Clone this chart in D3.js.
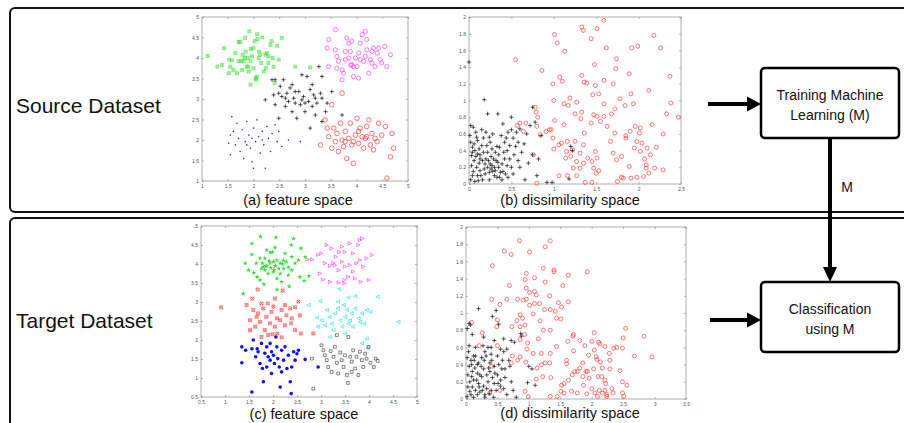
<!DOCTYPE html>
<html>
<head>
<meta charset="utf-8">
<script src="https://cdn.jsdelivr.net/npm/d3@7"></script>
<style>
body { margin: 0; background: #fff; }
text { font-family: "Liberation Sans", Arial, sans-serif; }
</style>
</head>
<body>
<div class="container"></div>
<script>
// ---- tick values ----
let ticksA = [1, 1.5, 2, 2.5, 3, 3.5, 4, 4.5, 5];
let ticksBx = [0, 0.5, 1, 1.5, 2, 2.5];
let ticksBy = [0, 0.2, 0.4, 0.6, 0.8, 1, 1.2, 1.4, 1.6, 1.8, 2];
let ticksC = [0.5, 1, 1.5, 2, 2.5, 3, 3.5, 4, 4.5, 5];
let ticksDx = [0, 0.5, 1, 1.5, 2, 2.5, 3, 3.5];
let ticksDy = [0, 0.2, 0.4, 0.6, 0.8, 1, 1.2, 1.4, 1.6, 1.8, 2];

// ---- (a) source feature space ----
let aGreen = [[1.11,4.05],[1.30,3.79],[1.39,3.83],[1.43,4.24],[1.52,3.63],[1.53,3.96],[1.55,3.79],[1.58,3.94],[1.61,3.71],[1.65,4.12],[1.68,3.63],[1.71,4.39],[1.74,4.39],[1.76,3.92],[1.79,4.08],[1.81,3.93],[1.83,4.00],[1.84,4.49],[1.85,4.16],[1.87,3.79],[1.89,3.79],[1.91,3.67],[1.92,4.65],[1.94,3.92],[1.95,4.22],[1.97,4.04],[2.00,4.24],[2.02,4.41],[2.04,3.51],[2.05,3.47],[2.07,4.58],[2.08,4.46],[2.10,4.00],[2.11,4.16],[2.13,4.08],[2.15,3.88],[2.17,4.50],[2.20,3.67],[2.23,4.08],[2.24,3.75],[2.26,4.12],[2.29,3.88],[2.33,4.32],[2.35,4.41],[2.37,4.00],[2.39,3.79],[2.41,3.39],[2.46,4.30],[2.49,3.96],[2.55,4.49],[1.94,3.35],[2.07,3.55],[1.71,3.92],[1.78,3.71],[1.89,4.00],[2.00,3.75],[2.29,4.04],[2.81,3.79],[3.10,3.77]];
let aMagenta = [[3.59,4.69],[3.46,4.45],[3.43,4.24],[3.46,3.79],[3.59,4.20],[3.62,4.04],[3.65,3.92],[3.72,3.71],[3.75,3.63],[3.78,3.96],[3.81,4.49],[3.85,4.36],[3.88,4.16],[3.89,3.83],[3.91,3.83],[3.94,3.55],[3.98,4.00],[4.01,3.79],[4.04,4.12],[4.07,4.36],[4.11,4.57],[4.14,3.92],[4.17,4.65],[4.20,4.45],[4.20,4.20],[4.24,3.63],[4.27,3.96],[4.30,3.88],[4.33,4.24],[4.36,3.79],[4.40,4.12],[4.43,4.24],[4.46,3.96],[4.49,3.88],[4.55,4.28],[4.59,3.79],[4.66,4.08],[3.72,3.47],[4.04,3.51],[3.94,3.79],[3.78,4.16],[4.17,4.04],[3.62,3.75],[4.07,3.96],[4.30,4.16],[3.91,4.41],[3.85,4.00]];
let aBlack = [[2.23,2.98],[2.36,3.47],[2.39,3.10],[2.42,2.86],[2.49,2.53],[2.52,3.31],[2.55,3.06],[2.58,3.47],[2.62,2.82],[2.65,3.14],[2.68,2.94],[2.71,3.27],[2.75,2.69],[2.78,3.02],[2.81,2.90],[2.84,2.53],[2.88,3.18],[2.91,2.86],[2.94,3.59],[2.97,3.06],[3.00,2.69],[3.04,3.55],[3.07,2.94],[3.10,3.23],[3.14,2.82],[3.17,3.10],[3.20,2.61],[3.23,2.90],[3.27,3.79],[3.30,3.14],[3.33,3.55],[3.33,2.45],[3.40,2.69],[3.43,2.90],[3.52,3.18],[3.72,2.61],[3.10,2.29],[2.42,3.47],[2.94,2.98],[3.20,3.02],[2.81,3.18],[2.62,3.02],[3.00,2.90],[2.49,3.14],[3.14,3.35],[3.33,3.02],[2.75,3.35]];
let aRed = [[3.30,1.88],[3.39,2.49],[3.43,2.29],[3.46,2.08],[3.52,1.80],[3.56,2.29],[3.59,1.96],[3.62,2.16],[3.65,1.72],[3.69,2.41],[3.72,2.00],[3.75,1.84],[3.78,2.21],[3.81,1.55],[3.85,2.04],[3.88,2.41],[3.91,1.88],[3.94,1.43],[3.98,2.12],[4.01,2.53],[4.04,1.92],[4.07,2.29],[4.11,2.08],[4.14,1.80],[4.17,2.04],[4.20,2.33],[4.24,2.49],[4.27,1.88],[4.30,2.16],[4.33,1.76],[4.36,2.04],[4.40,1.96],[4.43,2.41],[4.49,2.12],[4.56,2.33],[4.59,1.07],[4.69,2.16],[4.72,1.80],[4.66,1.59],[3.72,3.14],[3.52,2.86],[3.94,1.96],[4.04,2.21],[3.78,1.96],[4.20,2.08]];
let aBlue = [[1.55,2.12],[1.52,1.92],[1.55,1.64],[1.58,2.57],[1.61,2.21],[1.65,1.88],[1.68,2.41],[1.71,2.04],[1.74,1.72],[1.78,2.25],[1.81,1.55],[1.84,1.96],[1.87,2.45],[1.91,2.12],[1.94,1.80],[1.97,1.47],[2.00,1.31],[2.00,2.29],[2.04,1.96],[2.07,2.49],[2.10,2.08],[2.13,1.68],[2.17,2.21],[2.20,1.88],[2.23,1.31],[2.26,2.33],[2.29,2.04],[2.33,1.72],[2.36,2.16],[2.42,2.37],[2.46,1.96],[2.49,2.21],[2.55,1.84],[2.68,2.00],[2.91,1.96],[1.97,2.04],[1.87,1.88],[2.17,2.00]];

// ---- (b) source dissimilarity space ----
let bBlack = [[0.02,0.70],[0.05,0.68],[0.08,0.62],[0.02,0.50],[0.06,0.48],[0.10,0.52],[0.04,0.38],[0.08,0.33],[0.12,0.42],[0.15,0.46],[0.03,0.22],[0.05,0.15],[0.09,0.20],[0.12,0.25],[0.14,0.10],[0.02,0.05],[0.07,0.03],[0.18,0.18],[0.20,0.30],[0.22,0.38],[0.17,0.55],[0.20,0.62],[0.25,0.50],[0.27,0.42],[0.25,0.24],[0.28,0.15],[0.30,0.10],[0.32,0.28],[0.35,0.35],[0.33,0.45],[0.38,0.58],[0.40,0.72],[0.42,0.50],[0.45,0.40],[0.45,0.22],[0.40,0.15],[0.36,0.08],[0.48,0.30],[0.50,0.65],[0.52,0.55],[0.55,0.45],[0.58,0.28],[0.60,0.20],[0.62,0.38],[0.65,0.48],[0.52,0.12],[0.68,0.60],[0.72,0.70],[0.70,0.25],[0.75,0.35],[0.82,0.30],[0.85,0.58],[0.80,0.10],[0.66,0.05],[0.92,0.02],[0.98,0.02],[1.20,0.45],[1.22,0.40],[1.18,0.06],[0.78,0.74],[0.75,0.92],[0.50,0.80],[0.34,0.84],[0.22,0.84],[0.18,1.01],[0.00,1.46],[0.13,0.30],[0.10,0.10],[0.24,0.05],[0.30,0.20],[0.42,0.30],[0.15,0.65],[0.46,0.62],[0.58,0.50],[0.28,0.60],[0.06,0.28],[0.35,0.20],[0.26,0.33],
  [0.01,0.58],[0.04,0.44],[0.07,0.40],[0.10,0.36],[0.13,0.35],[0.16,0.28],[0.19,0.24],[0.22,0.20],[0.24,0.14],[0.27,0.22],[0.29,0.30],[0.31,0.38],[0.34,0.26],[0.37,0.14],[0.39,0.05],[0.43,0.12],[0.46,0.08],[0.50,0.20],[0.53,0.35],[0.56,0.62],[0.13,0.16],[0.16,0.05],[0.19,0.12],[0.21,0.46],[0.24,0.56],[0.09,0.56],[0.11,0.04],[0.04,0.10],[0.26,0.18],[0.31,0.16],[0.36,0.44],[0.41,0.38],[0.44,0.55],[0.60,0.66],[0.48,0.46],[0.03,0.34],[0.17,0.38],[0.23,0.28],[0.33,0.08],[0.39,0.24]];
let bRed = [[0.55,1.49],[1.01,1.79],[1.04,1.69],[1.13,1.59],[0.86,1.36],[1.07,1.28],[0.99,1.20],[1.10,1.23],[1.00,1.00],[1.12,0.96],[1.19,1.03],[1.27,0.98],[1.33,1.88],[1.35,1.84],[1.44,1.74],[1.51,1.86],[1.59,1.96],[1.62,1.63],[1.48,1.43],[1.33,1.30],[1.36,1.22],[1.39,1.21],[1.49,1.18],[1.59,1.24],[1.53,1.08],[1.59,0.96],[1.46,1.07],[1.70,1.20],[1.74,1.50],[1.73,1.38],[1.78,1.02],[1.72,0.90],[1.84,0.94],[1.89,1.32],[1.91,1.08],[1.94,0.96],[1.92,1.63],[1.99,1.65],[2.18,1.78],[2.26,1.63],[2.12,1.12],[2.37,1.29],[2.38,0.97],[2.33,0.84],[2.47,0.80],[2.16,0.71],[2.29,0.60],[2.02,0.67],[2.01,0.61],[1.96,0.69],[1.90,0.63],[1.85,0.58],[1.85,0.55],[1.98,0.51],[1.95,0.43],[2.04,0.49],[2.02,0.39],[2.10,0.43],[2.14,0.35],[2.21,0.44],[2.07,0.30],[2.19,0.19],[2.09,0.23],[2.09,0.19],[2.29,0.17],[2.12,0.13],[2.06,0.09],[1.98,0.08],[1.91,0.07],[1.82,0.07],[1.80,0.08],[1.75,0.03],[1.89,0.21],[1.80,0.33],[1.74,0.29],[1.70,0.37],[1.67,0.51],[1.72,0.61],[1.63,0.69],[1.55,0.75],[1.51,0.81],[1.59,0.81],[1.47,0.83],[1.44,0.73],[1.36,0.61],[1.35,0.47],[1.49,0.39],[1.51,0.31],[1.45,0.27],[1.53,0.16],[1.50,0.13],[1.47,0.19],[1.40,0.31],[1.35,0.25],[1.31,0.19],[1.27,0.27],[1.25,0.51],[1.22,0.41],[1.20,0.33],[1.15,0.39],[1.14,0.31],[1.09,0.49],[1.06,0.47],[1.00,0.42],[0.99,0.55],[0.97,0.65],[1.01,0.76],[0.95,0.65],[0.91,0.63],[0.84,0.59],[0.80,0.69],[0.79,0.86],[0.81,0.80],[0.78,0.92],[0.64,0.63],[0.60,0.73],[0.57,0.70],[0.67,0.73],[0.76,0.35],[1.06,0.10],[1.16,0.10],[1.27,0.10],[1.23,0.19],[1.37,0.02],[1.45,0.02],[0.80,0.01],[1.17,0.94],[1.25,0.84],[1.33,0.86],[1.32,0.78],[1.12,0.71],[1.16,0.51],[1.31,0.37],[1.68,0.84]];

// ---- (c) target feature space ----
let cGreen = [[1.56,4.54],[1.74,4.72],[2.06,4.70],[1.87,4.37],[1.94,4.31],[1.99,4.31],[2.38,4.50],[2.43,4.67],[2.58,4.41],[1.56,4.25],[1.65,4.02],[1.78,4.02],[1.83,4.15],[1.94,4.02],[2.01,4.06],[2.08,4.10],[2.15,4.02],[2.22,4.09],[2.28,4.06],[2.39,4.19],[2.46,4.02],[2.53,4.10],[1.42,4.02],[1.49,3.84],[1.60,3.77],[1.67,3.66],[1.76,3.88],[1.83,3.84],[1.90,3.75],[2.01,3.79],[2.08,3.62],[2.15,3.75],[2.22,3.88],[2.32,3.71],[2.39,3.84],[2.56,3.66],[2.67,4.19],[2.75,3.68],[2.65,3.56],[1.81,3.47],[2.34,3.41],[2.08,3.33],[1.38,3.22],[2.04,4.43],[2.25,4.28],[1.73,4.15],[1.87,3.95],[2.32,3.91],[1.73,3.58],[2.18,3.53],[1.85,3.95],[1.95,3.90],[2.05,3.95],[2.12,3.88],[1.80,3.92],[2.20,4.00],[1.92,4.08],[2.02,3.85]];
let cMagenta = [[2.72,4.12],[2.82,4.12],[3.01,4.28],[3.12,4.50],[3.22,4.41],[3.31,4.19],[3.38,4.32],[3.44,4.46],[3.50,4.32],[3.60,4.54],[3.67,4.28],[3.78,4.50],[3.81,4.63],[3.86,4.67],[4.06,4.24],[3.08,4.02],[3.19,3.95],[3.26,4.02],[3.29,3.97],[3.37,3.84],[3.44,4.06],[3.50,3.93],[3.60,3.97],[3.67,3.80],[3.74,4.02],[3.81,4.10],[3.88,3.93],[3.95,4.15],[2.98,3.75],[3.05,3.59],[3.19,3.53],[3.37,3.51],[3.49,3.58],[3.57,3.66],[3.71,3.62],[3.83,3.53],[4.00,3.58],[3.49,3.49],[2.94,4.24]];
let cCyan = [[2.74,2.92],[2.98,3.02],[3.38,3.34],[3.57,3.12],[3.71,3.15],[4.18,3.14],[4.61,2.48],[2.91,2.59],[2.93,2.35],[3.01,2.52],[3.12,2.79],[3.17,2.61],[3.22,2.43],[3.26,2.26],[3.19,2.08],[3.29,2.70],[3.35,2.83],[3.40,2.52],[3.44,2.35],[3.50,2.61],[3.54,2.79],[3.57,2.43],[3.60,2.52],[3.64,2.70],[3.67,2.35],[3.71,2.83],[3.78,2.57],[3.85,2.70],[3.90,2.43],[3.95,2.79],[4.03,2.74],[3.95,2.04],[3.85,1.91],[3.97,1.78],[3.50,2.17],[3.35,3.01],[3.08,2.39],[3.47,2.92],[3.81,2.48]];
let cRed = [[0.92,2.86],[1.45,2.92],[1.57,3.09],[1.68,3.33],[1.76,2.96],[1.89,2.96],[2.04,3.09],[2.20,3.30],[2.25,2.92],[2.53,3.01],[2.46,2.86],[2.36,2.83],[1.59,2.79],[1.69,2.70],[1.80,2.83],[1.86,2.61],[1.97,2.74],[2.08,2.57],[2.18,2.79],[2.28,2.65],[2.39,2.57],[2.56,2.65],[1.52,2.52],[1.63,2.35],[1.73,2.48],[1.83,2.26],[1.94,2.44],[2.04,2.35],[2.15,2.52],[2.25,2.39],[2.38,2.44],[2.46,2.26],[1.52,2.26],[1.76,2.08],[1.90,2.13],[1.99,2.15],[2.09,2.17],[2.18,2.07],[2.58,2.17],[2.84,2.17],[1.66,2.61],[2.01,2.88]];
let cBlue = [[1.35,1.82],[1.35,1.40],[1.43,1.73],[1.56,1.77],[1.56,0.63],[1.59,2.00],[1.64,1.56],[1.69,1.69],[1.73,1.38],[1.78,1.25],[1.80,0.90],[1.83,1.65],[1.87,1.82],[1.90,1.56],[1.94,1.47],[1.97,1.69],[1.97,1.12],[2.01,1.60],[2.03,1.38],[2.06,2.08],[2.08,1.82],[2.10,1.51],[2.13,1.29],[2.15,0.76],[2.18,1.73],[2.22,1.47],[2.25,1.82],[2.29,1.25],[2.32,1.60],[2.36,0.90],[2.38,0.59],[2.39,1.29],[2.43,1.69],[2.46,1.47],[2.50,1.64],[2.53,1.73],[2.67,1.49],[2.94,1.29],[1.67,1.77],[1.87,1.29],[2.18,1.16],[1.94,1.91],[1.76,1.91]];
let cBlack = [[2.81,1.51],[2.84,0.72],[3.01,1.86],[3.05,1.73],[3.08,1.60],[3.12,1.47],[3.15,1.29],[3.20,1.71],[3.26,1.56],[3.29,1.82],[3.33,1.40],[3.36,1.12],[3.40,1.67],[3.43,1.47],[3.47,1.29],[3.50,1.60],[3.54,1.08],[3.56,0.87],[3.57,2.08],[3.61,1.56],[3.64,1.43],[3.67,1.73],[3.71,1.25],[3.74,1.56],[3.78,1.08],[3.81,1.69],[3.85,1.47],[3.88,1.29],[3.92,1.64],[3.95,1.51],[3.99,1.82],[4.03,1.40],[4.10,1.29],[4.14,1.51],[4.18,1.45],[3.33,2.13],[3.22,1.16],[3.64,1.16]];

// ---- (d) target dissimilarity space ----
let dBlack = [[0.20,1.05],[0.42,0.96],[0.48,1.03],[0.52,0.87],[0.05,0.88],[0.07,0.86],[0.02,0.82],[0.10,0.75],[0.28,0.72],[0.45,0.68],[0.60,0.70],[0.72,0.68],[0.77,0.66],[0.87,0.76],[0.65,0.58],[0.55,0.58],[0.35,0.60],[0.30,0.55],[0.15,0.60],[0.05,0.62],[0.02,0.48],[0.08,0.45],[0.12,0.50],[0.20,0.42],[0.25,0.48],[0.32,0.50],[0.40,0.52],[0.50,0.50],[0.58,0.45],[0.70,0.38],[0.62,0.35],[0.45,0.38],[0.38,0.32],[0.28,0.35],[0.18,0.30],[0.10,0.32],[0.03,0.28],[0.06,0.20],[0.12,0.22],[0.20,0.18],[0.28,0.15],[0.35,0.20],[0.42,0.25],[0.50,0.28],[0.55,0.22],[0.60,0.12],[0.48,0.10],[0.40,0.10],[0.30,0.05],[0.22,0.08],[0.15,0.10],[0.08,0.05],[0.02,0.03],[0.12,0.02],[0.30,0.02],[0.18,0.40],[0.38,0.42],[0.62,0.25],[0.72,0.20],[0.75,0.10],[0.65,0.05],[1.00,0.38],[1.05,0.35],[0.98,0.19],[1.10,0.16],[0.88,0.73],[0.10,0.14],[0.25,0.26],[0.55,0.15],[0.05,0.38],[0.33,0.12],[0.45,0.18],[0.60,0.55],[0.68,0.45],[0.80,0.02],[0.15,0.50],[0.22,0.28],
  [0.04,0.55],[0.09,0.40],[0.14,0.36],[0.17,0.22],[0.21,0.14],[0.26,0.10],[0.33,0.28],[0.36,0.36],[0.41,0.45],[0.46,0.30],[0.51,0.18],[0.57,0.35],[0.09,0.26],[0.13,0.45],[0.24,0.38],[0.29,0.45],[0.03,0.14],[0.18,0.05],[0.37,0.06],[0.44,0.02],[0.27,0.62],[0.40,0.60],[0.52,0.40],[0.06,0.09]];
let dRed = [[0.85,1.84],[1.34,1.84],[1.26,1.77],[0.61,1.72],[1.01,1.71],[0.72,1.68],[0.42,1.55],[1.23,1.52],[1.40,1.50],[1.40,1.48],[1.93,1.48],[1.63,1.44],[0.96,1.46],[0.94,1.39],[1.09,1.41],[0.69,1.32],[1.26,1.36],[1.54,1.32],[0.96,1.29],[1.01,1.24],[1.09,1.25],[1.12,1.21],[1.33,1.20],[0.41,1.16],[0.65,1.16],[0.82,1.16],[0.91,1.15],[0.96,1.16],[1.09,1.11],[1.17,1.11],[0.54,1.10],[1.47,1.12],[1.63,1.13],[1.01,1.09],[1.07,0.99],[1.25,1.04],[1.34,1.04],[1.42,1.02],[1.52,1.07],[1.44,0.94],[1.51,0.93],[1.18,0.91],[0.86,0.98],[0.90,0.94],[0.81,0.91],[0.50,0.92],[0.94,0.86],[0.09,0.89],[0.49,0.84],[0.73,0.84],[0.86,0.84],[1.23,0.80],[1.34,0.80],[2.54,0.82],[0.26,0.77],[0.93,0.75],[1.70,0.73],[1.71,0.75],[2.83,0.73],[2.50,0.71],[1.15,0.70],[0.86,0.69],[1.62,0.67],[1.81,0.68],[2.04,0.77],[2.00,0.67],[2.11,0.66],[2.13,0.64],[2.21,0.61],[2.35,0.59],[2.40,0.60],[2.49,0.59],[0.50,0.62],[0.21,0.62],[0.98,0.65],[0.97,0.58],[1.44,0.61],[1.71,0.56],[1.89,0.62],[2.04,0.57],[2.68,0.50],[2.96,0.49],[2.28,0.53],[2.07,0.49],[2.08,0.46],[1.95,0.51],[1.60,0.45],[1.60,0.41],[0.74,0.50],[0.86,0.49],[0.82,0.45],[0.72,0.42],[1.07,0.53],[1.20,0.53],[1.34,0.53],[1.33,0.42],[1.26,0.42],[1.20,0.40],[1.13,0.36],[0.95,0.43],[0.41,0.38],[1.73,0.32],[1.77,0.32],[1.69,0.28],[1.81,0.36],[1.86,0.42],[1.91,0.32],[1.93,0.32],[2.03,0.35],[2.17,0.36],[2.14,0.43],[2.29,0.45],[2.29,0.35],[2.10,0.26],[2.16,0.26],[2.21,0.22],[2.22,0.18],[2.45,0.33],[1.86,0.26],[1.96,0.24],[1.63,0.22],[1.56,0.18],[1.52,0.16],[1.22,0.26],[1.35,0.25],[1.12,0.23],[1.87,0.16],[2.00,0.12],[2.05,0.07],[2.09,0.03],[2.12,0.10],[2.17,0.07],[2.21,0.10],[2.24,0.05],[2.32,0.12],[2.34,0.07],[2.49,0.20],[2.56,0.16],[2.49,0.07],[2.51,0.03],[2.24,0.03],[1.77,0.07],[1.68,0.09],[1.56,0.07],[1.51,0.09],[1.45,0.03],[1.34,0.03],[0.99,0.03],[0.94,0.09],[0.38,0.07],[0.54,0.10],[1.92,0.06]];

let svg = d3.select(".container").append("svg")
    .attr("width", 904)
    .attr("height", 423);

// outer dataset frames
svg.append("rect").attr("x", 10).attr("y", 8).attr("width", 920).attr("height", 204)
  .attr("rx", 5).attr("fill", "none").attr("stroke", "#111").attr("stroke-width", 2);
svg.append("rect").attr("x", 10).attr("y", 218).attr("width", 920).attr("height", 230)
  .attr("rx", 5).attr("fill", "none").attr("stroke", "#111").attr("stroke-width", 2);

svg.append("text").text("Source Dataset").attr("x", 16).attr("y", 113)
  .attr("font-size", 21).attr("fill", "#111");
svg.append("text").text("Target Dataset").attr("x", 16).attr("y", 328)
  .attr("font-size", 21).attr("fill", "#111");

function markPath(kind, s) {
  if (kind == "plus") return `M${-s},0H${s}M0,${-s}V${s}`;
  if (kind == "xbox") return `M${-s},${-s}H${s}V${s}H${-s}ZM${-s},${-s}L${s},${s}M${s},${-s}L${-s},${s}`;
  if (kind == "square") return `M${-s},${-s}H${s}V${s}H${-s}Z`;
  if (kind == "triR") return `M${s},0L${-s},${-s}L${-s},${s}Z`;
  if (kind == "triL") return `M${-s},0L${s},${-s}L${s},${s}Z`;
  if (kind == "star") return d3.symbol(d3.symbolStar, s * s * 3)();
  // circles (outline or filled)
  return `M${s},0A${s},${s} 0 1,1 ${-s},0A${s},${s} 0 1,1 ${s},0Z`;
}

function panel(p) {
  let x = d3.scaleLinear().domain(p.xd).range([p.x0, p.x1]);
  let y = d3.scaleLinear().domain(p.yd).range([p.y1, p.y0]);
  let g = svg.append("g");

  g.append("rect").attr("x", p.x0).attr("y", p.y0)
    .attr("width", p.x1 - p.x0).attr("height", p.y1 - p.y0)
    .attr("fill", "#fff").attr("stroke", "#8a8a8a").attr("stroke-width", 0.7);

  let fmt = d3.format("");
  g.append("g").attr("transform", `translate(0,${p.y1})`)
    .call(d3.axisBottom(x).tickValues(p.xt).tickSize(-2).tickPadding(3).tickFormat(fmt));
  g.append("g").attr("transform", `translate(0,${p.y0})`)
    .call(d3.axisTop(x).tickValues(p.xt).tickSize(-2).tickFormat(""));
  g.append("g").attr("transform", `translate(${p.x0},0)`)
    .call(d3.axisLeft(y).tickValues(p.yt).tickSize(-2).tickPadding(3).tickFormat(fmt));
  g.append("g").attr("transform", `translate(${p.x1},0)`)
    .call(d3.axisRight(y).tickValues(p.yt).tickSize(-2).tickFormat(""));
  g.selectAll(".domain").remove();
  g.selectAll(".tick line").attr("stroke", "#8a8a8a").attr("stroke-width", 0.6);
  g.selectAll(".tick text").attr("font-size", 5).attr("fill", "#555")
    .style("font-family", "'Liberation Sans', Arial, sans-serif");

  p.series.forEach((s) => {
    let filled = (s.kind == "dot" || s.kind == "fdot" || s.kind == "star");
    g.append("g").selectAll("path")
      .data(s.data)
      .enter().append("path")
      .attr("transform", (d) => `translate(${x(d[0])},${y(d[1])})`)
      .attr("d", markPath(s.kind, s.size))
      .attr("fill", filled ? s.color : "none")
      .attr("stroke", filled ? "none" : s.color)
      .attr("stroke-width", s.sw || 0.7);
  });

  svg.append("text").text(p.caption)
    .attr("x", p.cx).attr("y", p.cy)
    .attr("text-anchor", "middle")
    .attr("font-size", 14.5).attr("fill", "#111");
}

panel({
  x0: 202, x1: 408, y0: 17, y1: 181, xd: [1, 5], yd: [1, 5], xt: ticksA, yt: ticksA,
  caption: "(a) feature space", cx: 298, cy: 205,
  series: [
    {data: aGreen, kind: "xbox", color: "#33dd33", size: 1.5, sw: 0.55},
    {data: aMagenta, kind: "circle", color: "#ff33ff", size: 2.1, sw: 0.65},
    {data: aBlue, kind: "dot", color: "#2020ff", size: 0.8},
    {data: aRed, kind: "circle", color: "#ff2a2a", size: 2.3, sw: 0.65},
    {data: aBlack, kind: "plus", color: "#111", size: 2}
  ]
});

panel({
  x0: 469, x1: 681, y0: 17, y1: 184, xd: [0, 2.5], yd: [0, 2], xt: ticksBx, yt: ticksBy,
  caption: "(b) dissimilarity space", cx: 570, cy: 205,
  series: [
    {data: bRed, kind: "circle", color: "#ff3030", size: 2, sw: 0.65},
    {data: bBlack, kind: "plus", color: "#111", size: 2.1}
  ]
});

panel({
  x0: 201, x1: 417, y0: 226, y1: 397, xd: [0.5, 5], yd: [0.5, 5], xt: ticksC, yt: ticksC,
  caption: "(c) feature space", cx: 304, cy: 419,
  series: [
    {data: cGreen, kind: "star", color: "#33dd33", size: 1.6},
    {data: cMagenta, kind: "triR", color: "#ff33ff", size: 1.7, sw: 0.6},
    {data: cRed, kind: "xbox", color: "#ff2a2a", size: 1.5, sw: 0.55},
    {data: cCyan, kind: "triL", color: "#11dddd", size: 1.7, sw: 0.6},
    {data: cBlack, kind: "square", color: "#222", size: 1.4, sw: 0.55},
    {data: cBlue, kind: "fdot", color: "#1010ee", size: 1.8}
  ]
});

panel({
  x0: 466, x1: 686, y0: 227, y1: 399, xd: [0, 3.5], yd: [0, 2], xt: ticksDx, yt: ticksDy,
  caption: "(d) dissimilarity space", cx: 570, cy: 418,
  series: [
    {data: dRed, kind: "circle", color: "#ff3030", size: 2, sw: 0.65},
    {data: dBlack, kind: "plus", color: "#111", size: 2.1}
  ]
});

// ---- right side flow: boxes and arrows ----
let flow = svg.append("g");
function arrowH(x1, x2, yy) {
  flow.append("line").attr("x1", x1).attr("x2", x2 - 13).attr("y1", yy).attr("y2", yy)
    .attr("stroke", "#000").attr("stroke-width", 4);
  flow.append("path").attr("d", `M${x2},${yy}L${x2 - 14},${yy - 7.5}L${x2 - 14},${yy + 7.5}Z`).attr("fill", "#000");
}
function box(y0, lines) {
  flow.append("rect").attr("x", 761).attr("y", y0).attr("width", 138).attr("height", 70)
    .attr("rx", 4).attr("fill", "#fff").attr("stroke", "#000").attr("stroke-width", 2.5);
  lines.forEach((t, i) => {
    flow.append("text").text(t).attr("x", 830).attr("y", y0 + 32 + i * 20)
      .attr("text-anchor", "middle").attr("font-size", 14).attr("fill", "#111");
  });
}
flow.append("line").attr("x1", 830).attr("x2", 830).attr("y1", 138).attr("y2", 270)
  .attr("stroke", "#000").attr("stroke-width", 4);
flow.append("path").attr("d", "M830,282L823,267L837,267Z").attr("fill", "#000");
arrowH(708, 761, 104);
arrowH(710, 761, 320);
box(68, ["Training Machine", "Learning (M)"]);
box(282, ["Classification", "using M"]);
flow.append("text").text("M").attr("x", 847).attr("y", 192)
  .attr("text-anchor", "middle").attr("font-size", 14).attr("fill", "#111");
</script>
</body>
</html>
